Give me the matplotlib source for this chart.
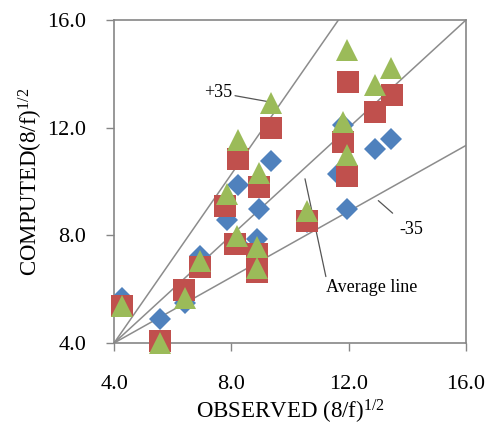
import matplotlib.pyplot as plt

plt.rcParams['font.family'] = ['Liberation Serif', 'DejaVu Serif']
plt.rcParams['mathtext.default'] = 'regular'

# --- data ---
blue_x = [4.26, 5.57, 6.42, 6.93, 7.84, 8.24, 8.18, 8.87, 8.87, 8.94, 9.35,
          10.57, 11.80, 11.62, 11.93, 12.90, 13.44]
blue_y = [5.69, 4.88, 5.50, 7.24, 8.58, 9.88, 7.70, 7.87, 6.70, 8.98, 10.75,
          8.50, 12.09, 10.29, 8.98, 11.22, 11.59]

red_x = [4.26, 5.57, 6.40, 6.93, 7.78, 8.24, 8.13, 8.87, 8.87, 8.94, 9.35,
         10.57, 11.80, 11.93, 11.96, 12.90, 13.47]
red_y = [5.38, 4.07, 5.96, 6.81, 9.10, 10.85, 7.68, 7.30, 6.62, 9.79, 11.97,
         8.55, 11.47, 10.22, 13.70, 12.58, 13.20]

green_x = [4.26, 5.57, 6.42, 6.93, 7.84, 8.24, 8.18, 8.87, 8.87, 8.94, 9.35,
           10.57, 11.80, 11.93, 11.93, 12.90, 13.44]
green_y = [5.38, 4.01, 5.69, 7.06, 9.55, 11.53, 7.99, 7.55, 6.80, 10.30, 12.90,
           8.92, 12.20, 10.97, 14.88, 13.58, 14.20]

# reference lines (start, end)
avg_line = ([4.0, 16.0], [4.0, 16.0])
plus35_line = ([4.0, 11.65], [4.0, 16.0])
minus35_line = ([4.0, 16.0], [4.0, 11.34])

ticks = [4.0, 8.0, 12.0, 16.0]
tick_labels = ['4.0', '8.0', '12.0', '16.0']

fig = plt.figure(figsize=(4.96, 4.30), dpi=100)
ax = fig.add_axes([0.23, 0.2023, 0.7095, 0.7512])

line_col = '#8c8c8c'
for xs, ys in (avg_line, plus35_line, minus35_line):
    ax.plot(xs, ys, color=line_col, lw=1.1, zorder=2)

ax.plot(blue_x, blue_y, 'D', color='#4F81BD', ms=11, mew=0, zorder=3, clip_on=False)
ax.plot(red_x, red_y, 's', color='#C0504D', ms=16, mew=0, zorder=4, clip_on=False)
ax.plot(green_x, green_y, '^', color='#9BBB59', ms=16, mew=0, zorder=5, clip_on=False)

# annotations
ax.annotate('+35', xy=(9.44, 12.93), xytext=(7.55, 13.3),
            fontsize=13, ha='center', va='center',
            arrowprops=dict(arrowstyle='-', color='#555555', lw=0.9,
                            shrinkA=0, shrinkB=0))
ax.annotate('-35', xy=(13.01, 9.29), xytext=(14.15, 8.2),
            fontsize=13, ha='center', va='center',
            arrowprops=dict(arrowstyle='-', color='#555555', lw=0.9,
                            shrinkA=6, shrinkB=0))
ax.annotate('Average line', xy=(10.51, 10.1), xytext=(12.8, 6.05),
            fontsize=13, ha='center', va='center',
            arrowprops=dict(arrowstyle='-', color='#555555', lw=0.9,
                            shrinkA=0, shrinkB=0, relpos=(0.0, 1.0)))

ax.set_xlim(4, 16)
ax.set_ylim(4, 16)
ax.set_xticks(ticks)
ax.set_xticklabels(tick_labels)
ax.set_yticks(ticks)
ax.set_yticklabels(tick_labels)
ax.tick_params(direction='out', length=6, width=1, color='#868686',
               labelsize=16)
ax.tick_params(axis='x', pad=17)
ax.tick_params(axis='y', pad=14)
for s in ax.spines.values():
    s.set_color('#868686')
    s.set_linewidth(1.2)

ax.set_xlabel('OBSERVED (8/f)$^{1/2}$', fontsize=16.5, labelpad=3)
ax.set_ylabel('COMPUTED(8/f)$^{1/2}$', fontsize=16.5, labelpad=2)

fig.savefig('out.png', dpi=100)
